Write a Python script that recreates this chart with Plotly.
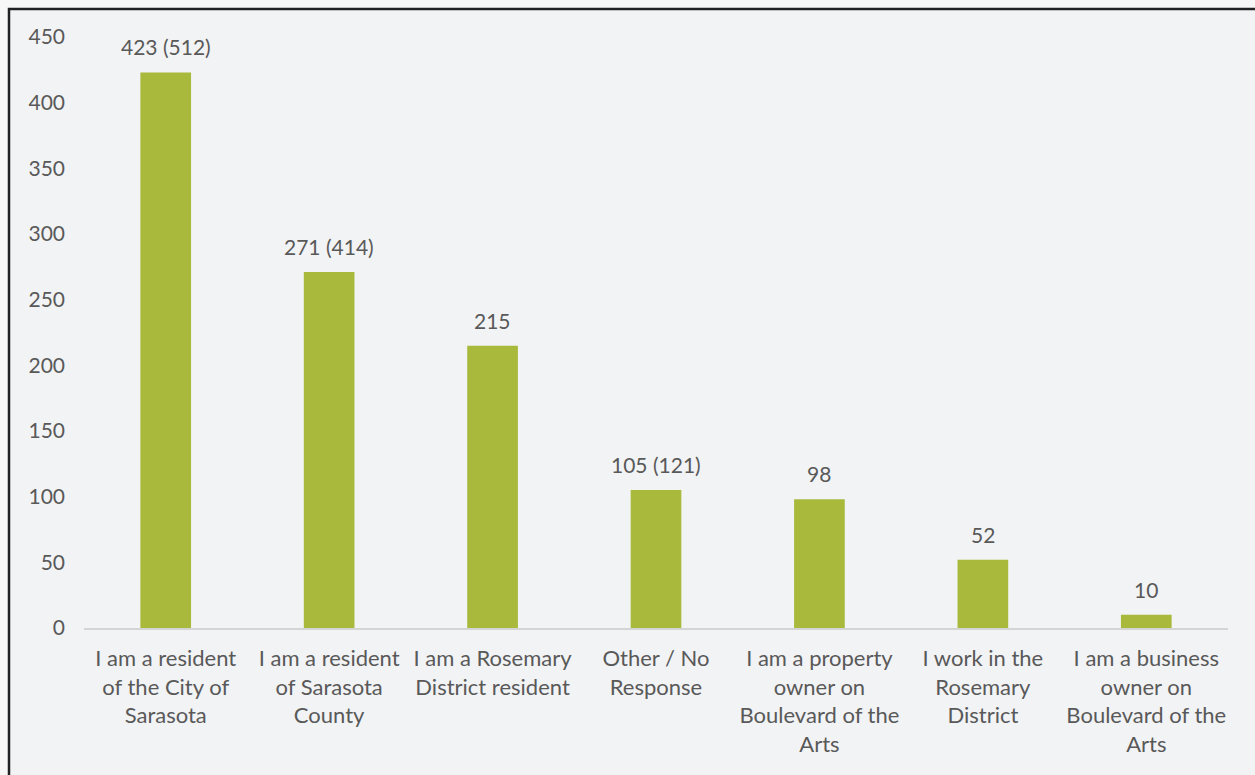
import plotly.graph_objects as go

categories = [
    "I am a resident<br>of the City of<br>Sarasota",
    "I am a resident<br>of Sarasota<br>County",
    "I am a Rosemary<br>District resident",
    "Other / No<br>Response",
    "I am a property<br>owner on<br>Boulevard of the<br>Arts",
    "I work in the<br>Rosemary<br>District",
    "I am a business<br>owner on<br>Boulevard of the<br>Arts",
]
counts = [423, 271, 215, 105, 98, 52, 10]
# totals shown in parentheses where they differ from the count
totals = [512, 414, None, 121, None, None, None]
y_ticks = [0, 50, 100, 150, 200, 250, 300, 350, 400, 450]

labels = [f"{c} ({t})" if t is not None else f"{c}" for c, t in zip(counts, totals)]

BAR = "#a8b93b"
TEXT = "#595959"
FONT = "Lato, 'Open Sans', sans-serif"

fig = go.Figure(
    go.Bar(
        x=categories,
        y=counts,
        marker=dict(color=BAR, line=dict(width=0)),
        width=0.31,
    )
)

# value labels above each bar
for cat, val, lab in zip(categories, counts, labels):
    fig.add_annotation(
        x=cat, y=val, text=lab, showarrow=False,
        yanchor="bottom", yshift=11,
        font=dict(size=21, color=TEXT, family=FONT),
    )

L, R, T, B = 84, 27, 37, 147
W, H = 1255, 775
pw, ph = W - L - R, H - T - B

# outer frame of the chart area
fig.add_shape(
    type="rect", xref="paper", yref="paper", layer="below",
    x0=(9 - L) / pw, x1=(W + 20 - L) / pw,
    y0=-(H + 20 - (H - B)) / ph, y1=1 + (T - 9) / ph,
    line=dict(color="#222222", width=2.5),
    fillcolor="#f2f3f5",
)

fig.update_layout(
    width=W, height=H,
    margin=dict(l=L, r=R, t=T, b=B),
    paper_bgcolor="#f7f7f7",
    plot_bgcolor="rgba(0,0,0,0)",
    showlegend=False,
    font=dict(family=FONT, color=TEXT, size=21),
)
fig.update_yaxes(
    range=[0, 450], tickvals=y_ticks, showgrid=False, zeroline=False,
    showline=False, ticks="", ticklabelstandoff=18,
    tickfont=dict(size=21, color=TEXT),
)
fig.update_xaxes(
    showgrid=False, showline=True, linecolor="#d4d4d4", linewidth=1.5,
    ticks="", ticklabelstandoff=10, tickangle=0,
    tickfont=dict(size=22, color=TEXT),
)

fig.write_html("out.html")
